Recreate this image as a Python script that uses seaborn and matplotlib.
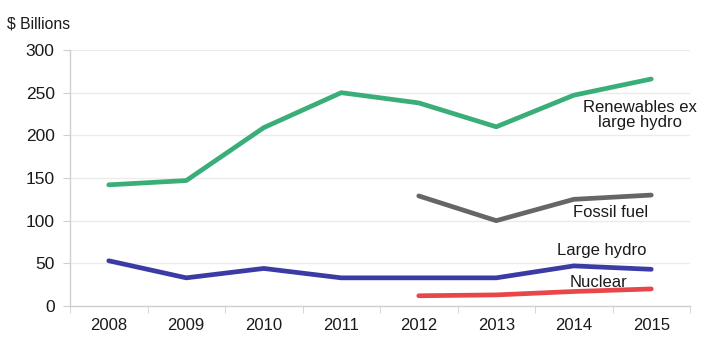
import numpy as np
import pandas as pd
import matplotlib
matplotlib.use("Agg")
import matplotlib.pyplot as plt
import seaborn as sns

years = [2008, 2009, 2010, 2011, 2012, 2013, 2014, 2015]
renewables = [142, 147, 209, 250, 238, 210, 247, 266]
fossil = [np.nan, np.nan, np.nan, np.nan, 129, 100, 125, 130]
large_hydro = [53, 33, 44, 33, 33, 33, 47, 43]
nuclear = [np.nan, np.nan, np.nan, np.nan, 12, 13, 17, 20]
series_names = ["Renewables ex\nlarge hydro", "Fossil fuel", "Large hydro", "Nuclear"]
colors = ["#3aae78", "#666666", "#3b3ba6", "#e8474a"]
yticks = [0, 50, 100, 150, 200, 250, 300]

sns.set_style("white")
plt.rcParams['font.family'] = ['Liberation Sans', 'DejaVu Sans']

fig = plt.figure(figsize=(7.08, 3.39), dpi=100)
ax = fig.add_axes([70/708, 1-306/339, 620/708, 256/339])

for name, vals, c in zip(series_names, [renewables, fossil, large_hydro, nuclear], colors):
    df = pd.DataFrame({"year": years, "value": vals}).dropna()
    sns.lineplot(data=df, x="year", y="value", color=c, linewidth=3.4, ax=ax)

ax.set_xlim(2007.5, 2015.5)
ax.set_ylim(0, 300)
ax.set_yticks(yticks)
ax.set_xticks(years)
ax.set_xticks([y + 0.5 for y in [2007] + years], minor=True)
ax.set_xlabel("")
ax.set_ylabel("")
ax.grid(axis="y", color="#ebebeb", linewidth=1)
ax.set_axisbelow(True)
for s in ["top", "right"]:
    ax.spines[s].set_visible(False)
for s in ["left", "bottom"]:
    ax.spines[s].set_color("#d0d0d0")
    ax.spines[s].set_linewidth(1)
ax.tick_params(axis="x", which="major", length=0, labelsize=12, pad=9, labelcolor="#1a1a1a")
ax.tick_params(axis="x", which="minor", length=5, color="#d0d0d0", direction="out", bottom=True)
ax.tick_params(axis="y", length=5, color="#d0d0d0", direction="out", labelsize=12.5, pad=6,
               left=True, labelcolor="#1a1a1a")

fig.text(7/708, 1-24/339, "$ Billions", fontsize=11.3, va="center", ha="left", color="#1a1a1a")

ax.text(2014.85, 224, series_names[0], fontsize=12, ha="center", va="center",
        linespacing=1.0, color="#1a1a1a")
ax.text(2014.47, 109, series_names[1], fontsize=12, ha="center", va="center", color="#1a1a1a")
ax.text(2014.36, 64.5, series_names[2], fontsize=12, ha="center", va="center", color="#1a1a1a")
ax.text(2014.32, 28, series_names[3], fontsize=12, ha="center", va="center", color="#1a1a1a")

fig.savefig("out.png", dpi=100)
